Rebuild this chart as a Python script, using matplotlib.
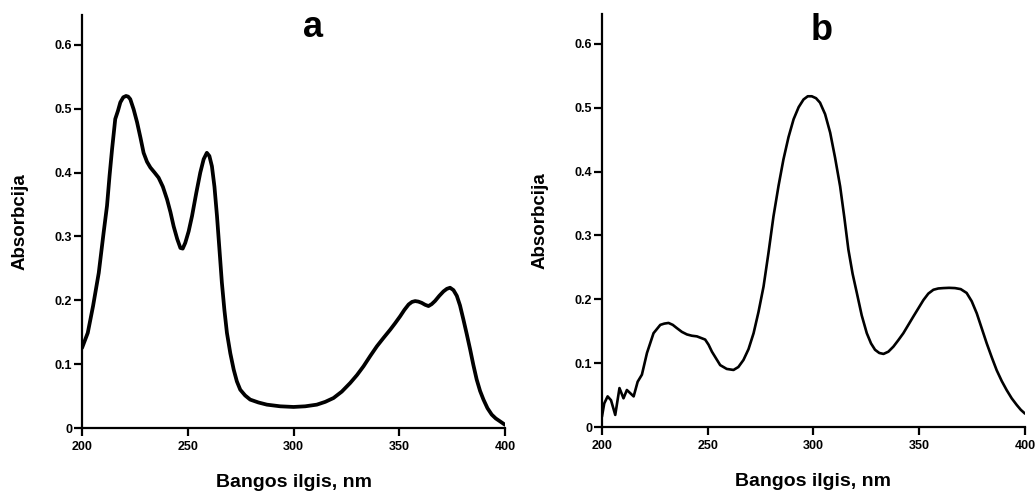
import matplotlib
matplotlib.use('Agg')
import matplotlib.pyplot as plt

plt.rcParams['font.family'] = ['Liberation Sans', 'DejaVu Sans']
plt.rcParams['font.weight'] = 'bold'

# Spectrum a
wl_a = [200, 202.7, 205.2, 207.9, 210.2, 211.8, 213.0, 214.2, 215.7, 217.0,
        218.1, 219.5, 220.8, 221.8, 222.8, 224.4, 226, 227.6, 229.1, 230.7,
        232.3, 234.3, 236.2, 238.2, 240.2, 241.8, 243.3, 245.0, 246.5, 247.6,
        248.8, 250.4, 252, 254.0, 255.9, 257.5, 259, 260.2, 261.4, 262.6,
        263.8, 265.0, 266.1, 267.3, 268.5, 270.1, 271.7, 273.2, 274.8, 277.1,
        279.5, 283.4, 287.4, 293.7, 300, 305.5, 311, 315.0, 318.9, 322.8,
        326.8, 330.0, 333.1, 336.3, 339.4, 342.5, 345.7, 348.0, 350.4, 352.4,
        354.4, 356.0, 357.5, 359.0, 360.6, 362.2, 363.8, 365.3, 366.9, 368.9,
        370.9, 372.5, 374, 375.6, 377.2, 378.7, 380.3, 381.9, 383.5, 385.0,
        386.6, 388.2, 389.8, 391.7, 393.7, 395.6, 397.6, 400]
abs_a = [0.1255, 0.149, 0.191, 0.243, 0.306, 0.348, 0.395, 0.437, 0.484, 0.497,
         0.510, 0.518, 0.520, 0.519, 0.515, 0.499, 0.479, 0.455, 0.431, 0.417,
         0.408, 0.400, 0.392, 0.378, 0.358, 0.338, 0.316, 0.296, 0.282, 0.281,
         0.290, 0.308, 0.332, 0.368, 0.400, 0.421, 0.431, 0.426, 0.410, 0.378,
         0.332, 0.278, 0.228, 0.185, 0.149, 0.117, 0.0915, 0.073, 0.060, 0.051,
         0.0445, 0.040, 0.0366, 0.034, 0.033, 0.034, 0.0366, 0.041, 0.047, 0.057,
         0.0706, 0.083, 0.0968, 0.113, 0.128, 0.141, 0.154, 0.164, 0.175, 0.185,
         0.1935, 0.1975, 0.1988, 0.198, 0.196, 0.193, 0.191, 0.194, 0.199, 0.207,
         0.214, 0.218, 0.2197, 0.216, 0.207, 0.192, 0.170, 0.147, 0.123, 0.099,
         0.0758, 0.058, 0.0445, 0.031, 0.021, 0.015, 0.0105, 0.005]

# Spectrum b
wl_b = [200, 201.1, 202.7, 204.3, 206.3, 208.3, 210.2, 211.8, 213.4, 215,
        216.9, 218.9, 221.3, 224.4, 227.6, 229.5, 231.5, 233.5, 235.4, 237.8,
        240.2, 242.5, 244.9, 248.8, 250.4, 252, 255.9, 259.0, 262.2, 264.5,
        266.9, 269.3, 271.7, 274.0, 276.4, 278.7, 281.1, 283.5, 285.8, 288.2,
        290.6, 293.0, 295.3, 297.3, 299.2, 301.2, 303.1, 305.5, 307.9, 310.2,
        312.6, 314.6, 316.5, 318.5, 320.5, 322.8, 325.2, 327.2, 329.1, 331.1,
        333.1, 335.4, 337.8, 340.1, 342.5, 347.2, 352, 354.3, 356.7, 359.0,
        361.4, 364.1, 366.9, 369.6, 372.4, 374.8, 377.2, 379.5, 381.9, 384.3,
        386.6, 389.0, 391.3, 393.7, 396.1, 398.0, 400]
abs_b = [0.016, 0.037, 0.048, 0.042, 0.019, 0.061, 0.045, 0.058, 0.053, 0.048,
         0.071, 0.082, 0.116, 0.147, 0.160, 0.162, 0.163, 0.160, 0.155, 0.149,
         0.145, 0.143, 0.142, 0.137, 0.129, 0.118, 0.097, 0.091, 0.0894, 0.094,
         0.105, 0.122, 0.147, 0.180, 0.220, 0.272, 0.330, 0.378, 0.419, 0.454,
         0.482, 0.501, 0.513, 0.518, 0.518, 0.515, 0.508, 0.490, 0.461, 0.422,
         0.377, 0.328, 0.278, 0.240, 0.210, 0.175, 0.147, 0.131, 0.121, 0.116,
         0.1145, 0.118, 0.126, 0.136, 0.147, 0.173, 0.199, 0.209, 0.215, 0.217,
         0.2176, 0.218, 0.2176, 0.216, 0.210, 0.197, 0.178, 0.155, 0.131, 0.109,
         0.089, 0.072, 0.058, 0.045, 0.0345, 0.027, 0.021]

x_ticks = [200, 250, 300, 350, 400]
y_ticks = [0, 0.1, 0.2, 0.3, 0.4, 0.5, 0.6]
y_tick_labels = ['0', '0.1', '0.2', '0.3', '0.4', '0.5', '0.6']

fig = plt.figure(figsize=(10.36, 4.93), dpi=100)
ax_a = fig.add_axes([0.0792, 0.1318, 0.4083, 0.838])
ax_b = fig.add_axes([0.581, 0.1338, 0.4084, 0.838])

panels = [(ax_a, wl_a, abs_a, 2.7, 'a', 0.545, 0.947),
          (ax_b, wl_b, abs_b, 1.9, 'b', 0.52, 0.937)]
for ax, x, y, lw, letter, lx, ly in panels:
    ax.plot(x, y, color='black', linewidth=lw, solid_joinstyle='round',
            solid_capstyle='round')
    ax.set_xlim(200, 400)
    ax.set_ylim(0, 0.647)
    ax.set_xticks(x_ticks)
    ax.set_yticks(y_ticks)
    ax.set_yticklabels(y_tick_labels)
    for s in ['top', 'right']:
        ax.spines[s].set_visible(False)
    for s in ['left', 'bottom']:
        ax.spines[s].set_linewidth(1.6)
    ax.tick_params(direction='out', length=5.5, width=1.6, labelsize=9)
    ax.tick_params(axis='x', pad=4)
    ax.tick_params(axis='y', pad=1.5)
    for lab in ax.get_xticklabels() + ax.get_yticklabels():
        lab.set_fontweight('bold')
    ax.set_xlabel('Bangos ilgis, nm', fontsize=14, fontweight='bold')
    ax.xaxis.set_label_coords(0.5, -0.112)
    ax.set_ylabel('Absorbcija', fontsize=13.5, fontweight='bold')
    ax.yaxis.set_label_coords(-0.126, 0.5)
    ax.text(lx, ly, letter, transform=ax.transAxes,
            ha='center', va='baseline', fontsize=26, fontweight='bold')

fig.savefig('out.png', dpi=100)
